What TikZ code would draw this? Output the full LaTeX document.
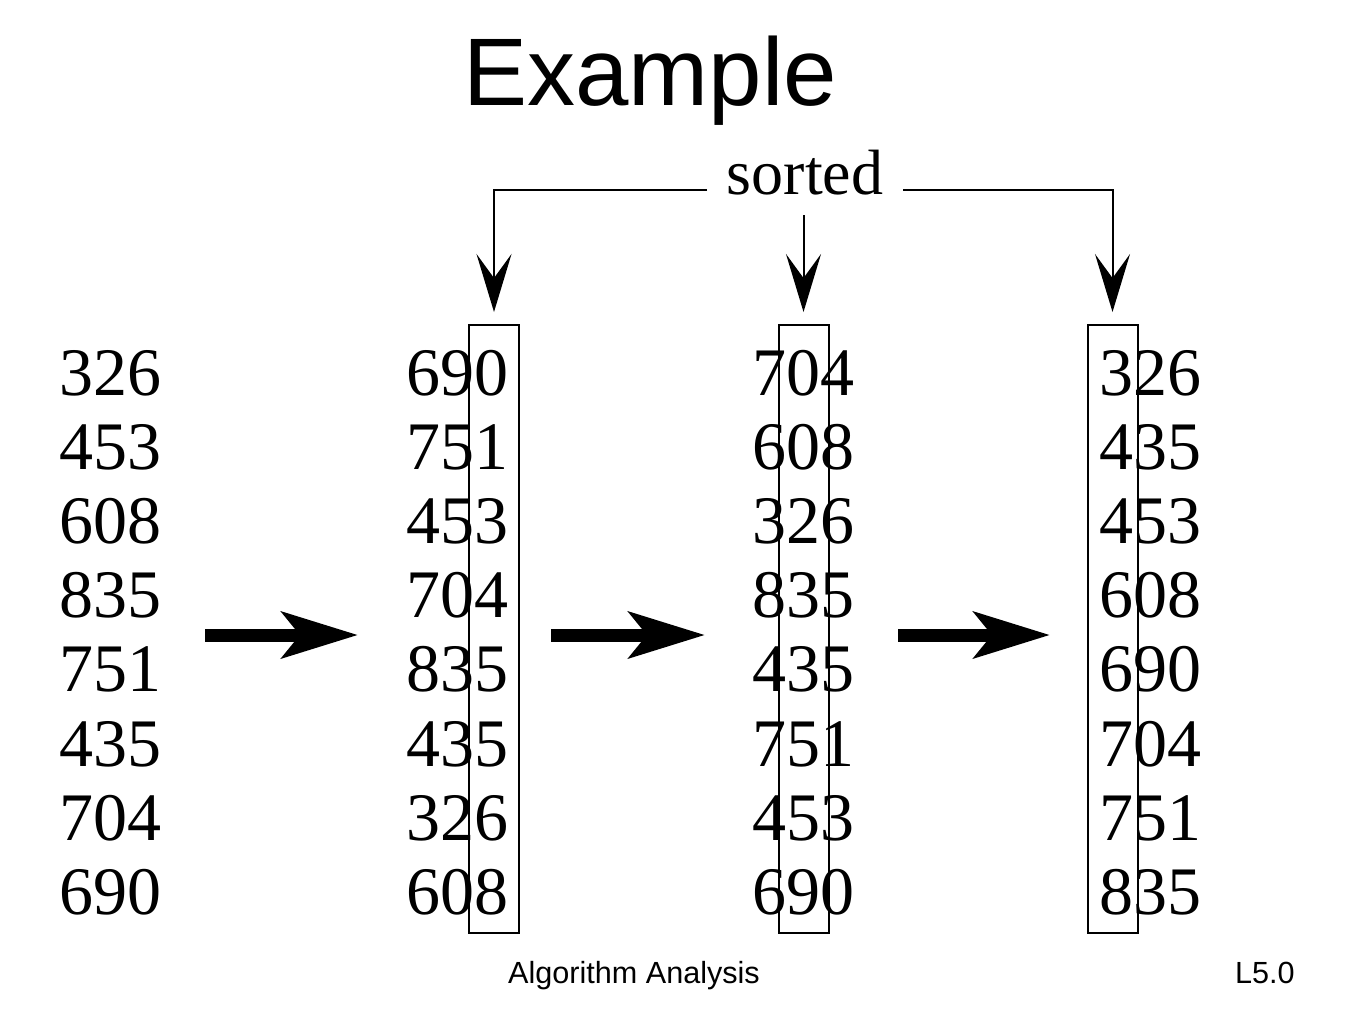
\documentclass[tikz,border=0pt]{standalone}
\usepackage{fontspec}
\setmainfont{Liberation Serif}
\newfontfamily\arialfont{Liberation Sans}
\usetikzlibrary{arrows.meta}
\begin{document}
\begin{tikzpicture}[x=0.5pt,y=-0.5pt,
  num/.style={inner sep=0pt,anchor=base,font=\fontsize{34}{34}\selectfont},
  sbox/.style={draw,line width=1pt,inner sep=0pt,minimum width=25pt,minimum height=304pt},
  bigarrow/.style={line width=6.5pt,-{Stealth[length=38pt,width=23pt,inset=9pt]}},
  thinarrow/.style={line width=1pt,-{Stealth[length=29pt,width=17.5pt,inset=12pt]}}]
\useasboundingbox (0,0) rectangle (1353,1014);
% title
\node[inner sep=0pt,anchor=base,font=\arialfont\fontsize{48}{48}\selectfont] (title) at (650,105) {Example};
% columns
\foreach \col/\cx/\vals in {1/110/{326,453,608,835,751,435,704,690},
                          2/457/{690,751,453,704,835,435,326,608},
                          3/803/{704,608,326,835,435,751,453,690},
                          4/1150/{326,435,453,608,690,704,751,835}}{
  \foreach \v [count=\r] in \vals {
    \node[num] (n\col-\r) at (\cx,{395+74.2*(\r-1)}) {\v};
  }
}
% boxes
\node[sbox] (b2) at (494,629) {};
\node[sbox] (b3) at (803.5,629) {};
\node[sbox] (b4) at (1112.5,629) {};
% sorted label
\node[inner sep=0pt,anchor=base,font=\fontsize{32}{32}\selectfont] (sorted) at (805,194) {sorted};
\coordinate (sl) at (707,190);
\coordinate (sr) at (903,190);
\coordinate (sm) at (803.5,215);
\draw[thinarrow,shorten >=6pt] (sl) -| (b2.north);
\draw[thinarrow,shorten >=6pt] (sr) -| (b4.north);
\draw[thinarrow,shorten >=6pt] (sm) -- (b3.north);
% big arrows
\coordinate (a1s) at (205,635); \coordinate (a1e) at (358,635);
\coordinate (a2s) at (551,635); \coordinate (a2e) at (705,635);
\coordinate (a3s) at (898,635); \coordinate (a3e) at (1050,635);
\draw[bigarrow] (a1s) -- (a1e);
\draw[bigarrow] (a2s) -- (a2e);
\draw[bigarrow] (a3s) -- (a3e);
% footer
\node[inner sep=0pt,anchor=base,font=\arialfont\fontsize{15.3}{15.3}\selectfont] (foot) at (634,983) {Algorithm Analysis};
\node[inner sep=0pt,anchor=base east,font=\arialfont\fontsize{15.3}{15.3}\selectfont] (pg) at (1295,983) {L5.0};
\end{tikzpicture}
\end{document}
